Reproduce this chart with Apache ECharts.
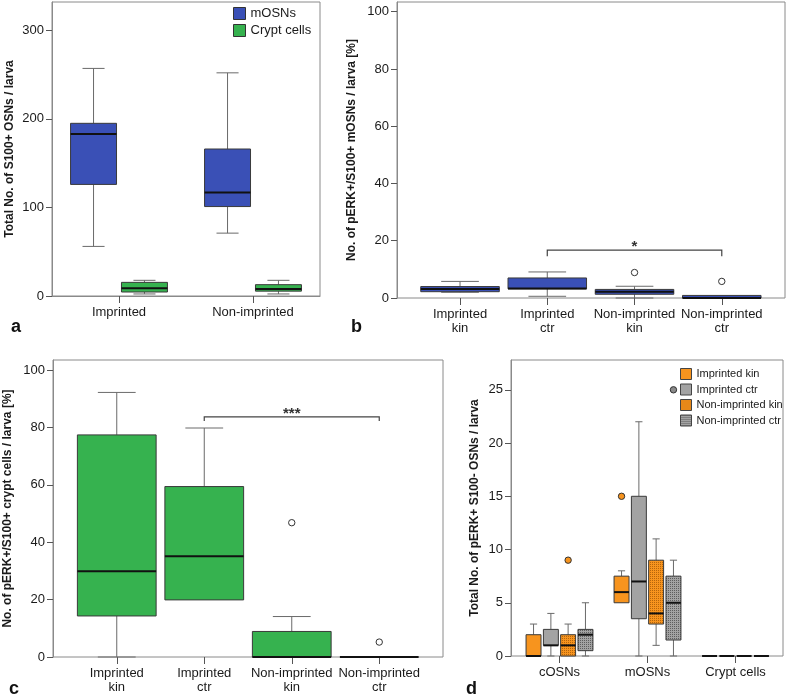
<!DOCTYPE html>
<html>
<head>
<meta charset="utf-8">
<script src="https://cdn.jsdelivr.net/npm/echarts@6/dist/echarts.min.js"></script>
<style>
html,body{margin:0;padding:0;background:#fff;}
#chart{width:787px;height:696px;}
</style>
</head>
<body>
<div id="chart"></div>
<script>
// ---------- data ----------
// each box: [lowWhisker, Q1, median, Q3, highWhisker]
const catsA = ['Imprinted', 'Non-imprinted'];
const aMOSNs = [[56, 126, 183, 195, 257], [71, 101, 117, 166, 252]];
const aCrypt = [[2.3, 4.5, 8.7, 15.4, 17.7], [2.3, 5.5, 8, 12.8, 17.7]];
const ticksA = [0, 100, 200, 300];

const catsB = ['Imprinted\nkin', 'Imprinted\nctr', 'Non-imprinted\nkin', 'Non-imprinted\nctr'];
const bBoxes = [[2.0, 2.2, 3.15, 4.0, 5.8], [0.6, 3.2, 3.3, 7.0, 9.1], [0, 1.3, 2.2, 3.0, 4.1], [0, 0, 0, 0.9, 0.9]];
const bOutliers = [[2, 8.9], [3, 5.8]];
const bBracket = [[1, 3, 16.7, 14.6]];
const bStars = '*';
const ticksB = [0, 20, 40, 60, 80, 100];

const catsC = ['Imprinted\nkin', 'Imprinted\nctr', 'Non-imprinted\nkin', 'Non-imprinted\nctr'];
const cBoxes = [[0, 14.3, 29.9, 77.4, 92.2], [19.9, 19.9, 35.1, 59.4, 79.8], [0, 0, 0, 8.9, 14.1], [0, 0, 0, 0, 0]];
const cOutliers = [[2, 46.8], [3, 5.2]];
const cBracket = [[1, 3, 83.7, 82.2]];
const cStars = '***';
const ticksC = [0, 20, 40, 60, 80, 100];

const catsD = ['cOSNs', 'mOSNs', 'Crypt cells'];
const dImpKin = [[0, 0, 0, 2, 3], [5, 5, 6, 7.5, 8], [0, 0, 0, 0, 0]];
const dImpCtr = [[0, 1, 1, 2.5, 4], [0, 3.5, 7, 15, 22], [0, 0, 0, 0, 0]];
const dNonKin = [[0, 0, 1, 2, 3], [1, 3, 4, 9, 11], [0, 0, 0, 0, 0]];
const dNonCtr = [[0, 0.5, 2, 2.5, 5], [0, 1.5, 5, 7.5, 9], [0, 0, 0, 0, 0]];
const dOutImpKin = [[1, 15]];
const dOutNonKin = [[0, 9]];
const dOutNonCtr = [[1, 25]];
const ticksD = [0, 5, 10, 15, 20, 25];

// ---------- styling ----------
const FONT = "'Liberation Sans', Arial, sans-serif";
const TXT = '#1a1a1a';
const FRAME = '#8a8a8a';
const TICK = '#555';
const BLUE = '#3a50b6';
const GREEN = '#36b24f';
const ORANGE = '#f7941e';
const GRAY = '#a3a3a3';

function makePattern(base, dot) {
  const c = document.createElement('canvas');
  c.width = 2; c.height = 2;
  const ctx = c.getContext('2d');
  ctx.fillStyle = base; ctx.fillRect(0, 0, 2, 2);
  ctx.fillStyle = dot; ctx.fillRect(0, 0, 1, 1);
  return { image: c, repeat: 'repeat' };
}
const ORANGE_PAT = makePattern(ORANGE, '#b5650c');
const GRAY_PAT = makePattern(GRAY, '#5e5e5e');

function toData(arr) { return arr.map((d, i) => [i].concat(d)); }

function boxRender(offsetFrac, widthFrac, fill) {
  return function (params, api) {
    const cat = api.value(0);
    const base = api.coord([cat, 0]);
    const band = api.size([1, 0])[0];
    const cx = base[0] + offsetFrac * band;
    const w = widthFrac * band;
    const yv = i => api.coord([cat, api.value(i)])[1];
    const yLo = yv(1), yQ1 = yv(2), yMed = yv(3), yQ3 = yv(4), yHi = yv(5);
    const cap = w * 0.48;
    const ws = { stroke: '#6a6a6a', lineWidth: 1 };
    const ch = [];
    if (yHi < yQ3 - 0.5) {
      ch.push({ type: 'line', shape: { x1: cx, y1: yQ3, x2: cx, y2: yHi }, style: ws });
      ch.push({ type: 'line', shape: { x1: cx - cap / 2, y1: yHi, x2: cx + cap / 2, y2: yHi }, style: ws });
    }
    if (yLo > yQ1 + 0.5) {
      ch.push({ type: 'line', shape: { x1: cx, y1: yQ1, x2: cx, y2: yLo }, style: ws });
      ch.push({ type: 'line', shape: { x1: cx - cap / 2, y1: yLo, x2: cx + cap / 2, y2: yLo }, style: ws });
    }
    if (yQ1 - yQ3 > 0.5) {
      ch.push({ type: 'rect', shape: { x: cx - w / 2, y: yQ3, width: w, height: yQ1 - yQ3 },
        style: { fill: fill, stroke: '#3a3a3a', lineWidth: 1 } });
    }
    ch.push({ type: 'line', shape: { x1: cx - w / 2, y1: yMed, x2: cx + w / 2, y2: yMed },
      style: { stroke: '#111', lineWidth: 2 } });
    return { type: 'group', children: ch };
  };
}

function outlierRender(offsetFrac, fill) {
  return function (params, api) {
    const p = api.coord([api.value(0), api.value(1)]);
    const band = api.size([1, 0])[0];
    return { type: 'circle', shape: { cx: p[0] + offsetFrac * band, cy: p[1], r: 3.2 },
      style: { fill: fill, stroke: '#333', lineWidth: 1 } };
  };
}

function bracketRender(label) {
  return function (params, api) {
    const a = api.coord([api.value(0), api.value(2)]);
    const b = api.coord([api.value(1), api.value(2)]);
    const aLeg = api.coord([api.value(0), api.value(3)]);
    const bLeg = api.coord([api.value(1), api.value(3)]);
    return {
      type: 'group',
      children: [
        { type: 'polyline', shape: { points: [aLeg, a, b, bLeg] }, style: { stroke: '#444', lineWidth: 1.2, fill: null } },
        { type: 'text', x: (a[0] + b[0]) / 2, y: a[1] - 3,
          style: { text: label, align: 'center', verticalAlign: 'middle', fontSize: 15, fontWeight: 'bold', fontFamily: FONT, fill: '#333' } }
      ]
    };
  };
}

function boxSeries(name, xi, yi, data, off, wf, fill) {
  return {
    type: 'custom', name: name, xAxisIndex: xi, yAxisIndex: yi,
    data: toData(data), encode: { x: 0, y: [1, 2, 3, 4, 5] },
    renderItem: boxRender(off, wf, fill),
    itemStyle: { color: fill, borderColor: '#333', borderWidth: 1 },
    silent: true, z: 3
  };
}
function outSeries(name, xi, yi, data, off, fill) {
  return {
    type: 'custom', name: name, xAxisIndex: xi, yAxisIndex: yi,
    data: data, encode: { x: 0, y: 1 },
    renderItem: outlierRender(off, fill), silent: true, z: 4
  };
}
function bracketSeries(xi, yi, data, label) {
  return {
    type: 'custom', name: 'sig' + xi, xAxisIndex: xi, yAxisIndex: yi,
    data: data, encode: { x: [0, 1], y: [2, 3] },
    renderItem: bracketRender(label), silent: true, z: 4
  };
}

// ---------- axes ----------
function catAxis(grid, cats, showLine) {
  return {
    type: 'category', gridIndex: grid, data: cats, boundaryGap: true,
    axisLine: { show: showLine, lineStyle: { color: FRAME } },
    axisTick: { show: true, alignWithLabel: true, length: 7, lineStyle: { color: TICK } },
    axisLabel: { color: TXT, fontSize: 13, fontFamily: FONT, margin: 9, lineHeight: 14, interval: 0 },
    splitLine: { show: false }
  };
}
function valAxis(grid, max, ticks, name, gap) {
  return {
    type: 'value', gridIndex: grid, min: 0, max: max,
    name: name, nameLocation: 'middle', nameGap: gap, nameRotate: 90,
    nameTextStyle: { fontSize: 12, fontWeight: 'bold', color: TXT, fontFamily: FONT },
    axisLine: { show: true, lineStyle: { color: FRAME } },
    axisTick: { show: true, length: 6, customValues: ticks, lineStyle: { color: TICK } },
    axisLabel: { color: TXT, fontSize: 13, fontFamily: FONT, margin: 8, customValues: ticks },
    splitLine: { show: false }
  };
}
function hiddenVal(grid, max) {
  return { type: 'value', gridIndex: grid, min: 0, max: max, show: false, splitLine: { show: false } };
}

const frame = { show: true, borderColor: FRAME, borderWidth: 1, backgroundColor: 'transparent' };

const maxA = 332, maxB = 103.4, maxC = 103.5, maxD = 27.8;

const option = {
  animation: false,
  backgroundColor: '#fff',
  title: [
    { text: 'a', left: 6, top: 313, textStyle: { fontSize: 18, fontWeight: 'bold', color: '#111', fontFamily: FONT } },
    { text: 'b', left: 346, top: 313, textStyle: { fontSize: 18, fontWeight: 'bold', color: '#111', fontFamily: FONT } },
    { text: 'c', left: 4, top: 675, textStyle: { fontSize: 18, fontWeight: 'bold', color: '#111', fontFamily: FONT } },
    { text: 'd', left: 461, top: 675, textStyle: { fontSize: 18, fontWeight: 'bold', color: '#111', fontFamily: FONT } }
  ],
  grid: [
    Object.assign({ left: 52, top: 2, width: 268, height: 294 }, frame),
    Object.assign({ left: 397, top: 2, width: 388, height: 296 }, frame),
    { left: 416.4, top: 2, width: 349, height: 296, show: false },
    Object.assign({ left: 53, top: 360, width: 390, height: 297 }, frame),
    { left: 73, top: 360, width: 350, height: 297, show: false },
    Object.assign({ left: 511, top: 360, width: 272, height: 296 }, frame),
    { left: 515.5, top: 360, width: 264, height: 296, show: false }
  ],
  xAxis: [
    catAxis(0, catsA, true),
    { type: 'value', gridIndex: 1, show: false, min: 0, max: 1 },
    catAxis(2, catsB, false),
    { type: 'value', gridIndex: 3, show: false, min: 0, max: 1 },
    catAxis(4, catsC, false),
    { type: 'value', gridIndex: 5, show: false, min: 0, max: 1 },
    catAxis(6, catsD, false)
  ],
  yAxis: [
    valAxis(0, maxA, ticksA, 'Total No. of S100+ OSNs / larva', 36),
    valAxis(1, maxB, ticksB, 'No. of pERK+/S100+ mOSNs / larva [%]', 39),
    hiddenVal(2, maxB),
    valAxis(3, maxC, ticksC, 'No. of pERK+/S100+ crypt cells / larva [%]', 39),
    hiddenVal(4, maxC),
    valAxis(5, maxD, ticksD, 'Total No. of pERK+ S100- OSNs / larva', 30),
    hiddenVal(6, maxD)
  ],
  legend: [
    {
      data: ['mOSNs', 'Crypt cells'], orient: 'vertical', left: 233, top: 7, padding: 0,
      itemWidth: 12, itemHeight: 12, itemGap: 4, icon: 'rect', selectedMode: false,
      itemStyle: { borderColor: '#333', borderWidth: 1 },
      textStyle: { fontSize: 13, color: TXT, fontFamily: FONT }
    },
    {
      data: ['Imprinted kin', 'Imprinted ctr', 'Non-imprinted kin', 'Non-imprinted ctr'],
      orient: 'vertical', left: 680, top: 368, padding: 0,
      itemWidth: 11, itemHeight: 11, itemGap: 3.5, icon: 'rect', selectedMode: false,
      itemStyle: { borderColor: '#444', borderWidth: 1 },
      textStyle: { fontSize: 11, color: TXT, fontFamily: FONT }
    }
  ],
  series: [
    // panel a
    boxSeries('mOSNs', 0, 0, aMOSNs, -0.19, 0.343, BLUE),
    boxSeries('Crypt cells', 0, 0, aCrypt, 0.19, 0.343, GREEN),
    // panel b
    boxSeries('bBox', 2, 2, bBoxes, 0, 0.9, BLUE),
    outSeries('bOut', 2, 2, bOutliers, 0, '#fff'),
    bracketSeries(2, 2, bBracket, bStars),
    // panel c
    boxSeries('cBox', 4, 4, cBoxes, 0, 0.9, GREEN),
    outSeries('cOut', 4, 4, cOutliers, 0, '#fff'),
    bracketSeries(4, 4, cBracket, cStars),
    // panel d
    boxSeries('Imprinted kin', 6, 6, dImpKin, -0.295, 0.17, ORANGE),
    boxSeries('Imprinted ctr', 6, 6, dImpCtr, -0.098, 0.17, GRAY),
    boxSeries('Non-imprinted kin', 6, 6, dNonKin, 0.098, 0.17, ORANGE_PAT),
    boxSeries('Non-imprinted ctr', 6, 6, dNonCtr, 0.295, 0.17, GRAY_PAT),
    outSeries('dOut1', 6, 6, dOutImpKin, -0.295, ORANGE),
    outSeries('dOut2', 6, 6, dOutNonKin, 0.098, ORANGE),
    outSeries('dOut3', 6, 6, dOutNonCtr, 0.295, '#8a8a8a')
  ]
};

const chart = echarts.init(document.getElementById('chart'), null, { renderer: 'canvas' });
chart.setOption(option);
</script>
</body>
</html>
